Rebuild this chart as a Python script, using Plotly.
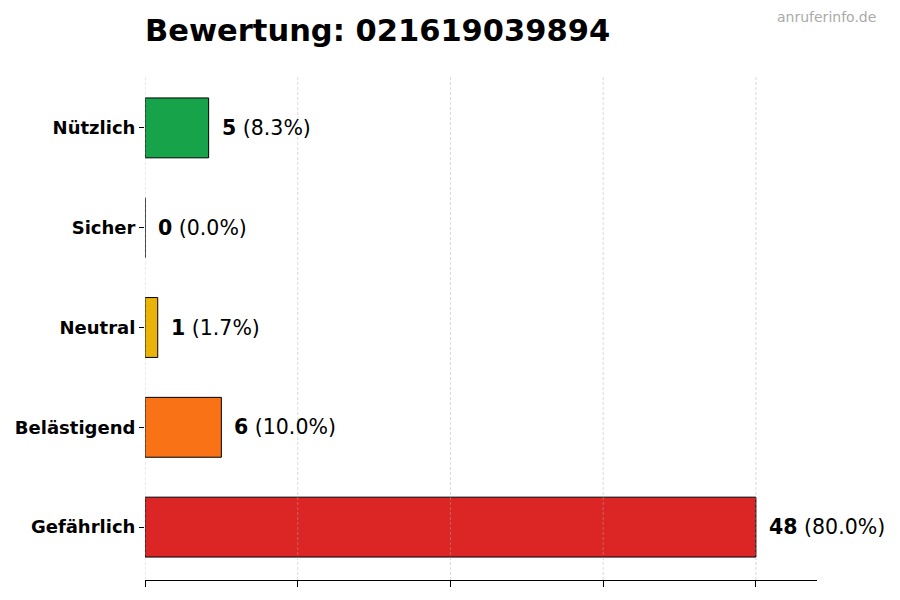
import plotly.graph_objects as go

categories = ["Gefährlich", "Belästigend", "Neutral", "Sicher", "Nützlich"]
counts = [48, 6, 1, 0, 5]
colors = ["#dc2626", "#f97316", "#eab308", "#22c55e", "#16a34a"]
grid_ticks = [0, 12, 24, 36, 48]

total = sum(counts)
labels = [f"<b>{c}</b> ({c / total * 100:.1f}%)" for c in counts]

# page body has an 8px margin, so the figure sits at (8, 8)
L, R, T, B = 137, 91, 67, 28
W, H = 900, 600
plot_w = W - L - R
plot_h = H - T - B

fig = go.Figure()
fig.add_trace(go.Bar(
    y=categories, x=counts, orientation="h",
    marker=dict(color=colors, line=dict(color="black", width=1)),
    width=0.6, showlegend=False, hoverinfo="skip",
))

# value labels to the right of each bar
for cat, c, lab in zip(categories, counts, labels):
    fig.add_annotation(x=c, y=cat, text=lab, showarrow=False,
                       xanchor="left", xshift=11,
                       font=dict(family="DejaVu Sans", size=20.5, color="black"))

# grid drawn above the bars, faint and dashed
for t in grid_ticks:
    fig.add_shape(type="line", x0=t, x1=t, y0=0, y1=1, yref="paper", layer="above",
                  line=dict(color="rgba(170,170,170,0.45)", width=1, dash="3px,2px"))

fig.update_layout(
    width=W, height=H,
    margin=dict(l=L, r=R, t=T, b=B, autoexpand=False),
    plot_bgcolor="white", paper_bgcolor="white",
    title=dict(text="<b>Bewertung: 021619039894</b>", x=L / W, xanchor="left",
               y=1 - 22 / H, yanchor="middle",
               font=dict(family="DejaVu Sans", size=30.5, color="black")),
    font=dict(family="DejaVu Sans"),
)
fig.update_xaxes(range=[0, 52.8], tickvals=grid_ticks, showticklabels=False,
                 ticks="outside", ticklen=6, tickcolor="black",
                 showline=True, linecolor="black", linewidth=1,
                 showgrid=False, zeroline=False, automargin=False)
fig.update_yaxes(range=[-0.53, 4.53], ticks="outside", ticklen=5, tickcolor="black",
                 showline=False, showgrid=False, zeroline=False, automargin=False,
                 tickfont=dict(family="DejaVu Sans", size=18, color="black"),
                 tickprefix="<b>", ticksuffix="</b>")

fig.add_annotation(text="anruferinfo.de", x=(870 - L) / plot_w, y=1 + (T - 9) / plot_h,
                   xref="paper", yref="paper", xanchor="right", yanchor="middle",
                   showarrow=False, font=dict(family="DejaVu Sans", size=14, color="#aaaaaa"))

fig.write_html("out.html")
